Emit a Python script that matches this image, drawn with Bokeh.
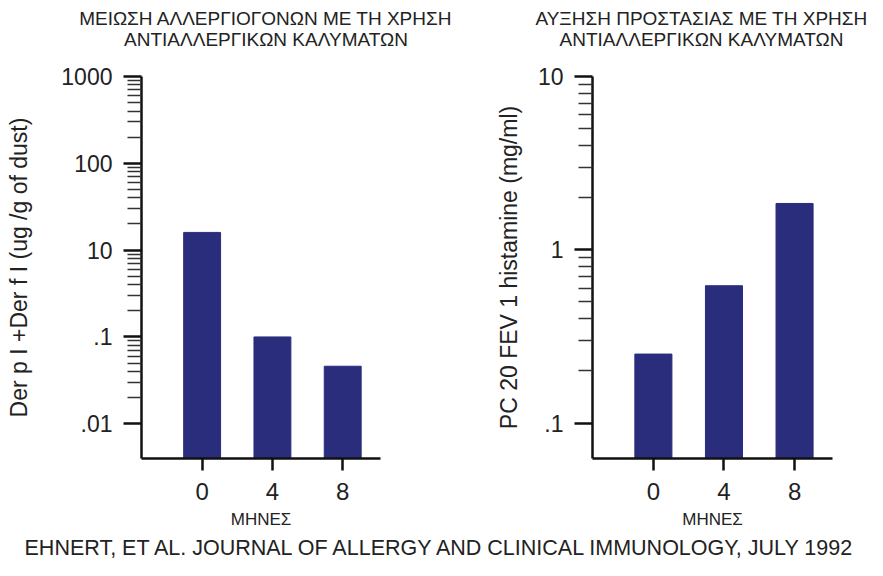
from bokeh.plotting import figure
from bokeh.layouts import column, row
from bokeh.models import Range1d, FixedTicker, Label
from bokeh.embed import file_html
from bokeh.resources import INLINE

# ---------------- data ----------------
months = [0, 4, 8]
allergen = [16.0, 1.0, 0.46]          # left panel (axis as printed: 1000,100,10,.1,.01)
pc20 = [0.25, 0.62, 1.85]             # right panel

left_ticks = [1000, 100, 10, 1, 0.1]
left_tick_labels = ["1000", "100", "10", ".1", ".01"]
right_ticks = [10, 1, 0.1]
right_tick_labels = ["10", "1", ".1"]
month_ticks = [0, 4, 8]

left_title = ["ΜΕΙΩΣΗ ΑΛΛΕΡΓΙΟΓΟΝΩΝ ΜΕ ΤΗ ΧΡΗΣΗ", "ΑΝΤΙΑΛΛΕΡΓΙΚΩΝ ΚΑΛΥΜΑΤΩΝ"]
right_title = ["ΑΥΞΗΣΗ ΠΡΟΣΤΑΣΙΑΣ ΜΕ ΤΗ ΧΡΗΣΗ", "ΑΝΤΙΑΛΛΕΡΓΙΚΩΝ ΚΑΛΥΜΑΤΩΝ"]
left_ylabel = "Der p I +Der f I (ug /g of dust)"
right_ylabel = "PC 20 FEV 1 histamine (mg/ml)"
xlabel = "ΜΗΝΕΣ"
footer = "EHNERT, ET AL. JOURNAL OF ALLERGY AND CLINICAL IMMUNOLOGY, JULY 1992"

FONT = "Liberation Sans"
TXT = "#222222"
BAR = "#2a2d7c"


def minor_ticks(decades):
    out = []
    for d in decades:
        for m in range(2, 10):
            out.append(m * d)
    return out


def make_panel(ylabel, values, yr, majors, labels, minors,
               width, border_left, border_right, ylabel_standoff):
    p = figure(width=width, height=481,
               x_range=Range1d(-3.45, 10.15), y_range=yr,
               y_axis_type="log", output_backend="svg",
               toolbar_location=None,
               min_border_left=border_left, min_border_right=border_right,
               min_border_top=26, min_border_bottom=73)

    p.vbar(x=months, top=values, bottom=1e-4, width=2.1,
           fill_color=BAR, line_color=BAR)

    p.grid.visible = False
    p.outline_line_color = None

    xa = p.xaxis[0]
    xa.ticker = FixedTicker(ticks=month_ticks)
    xa.axis_line_width = 2.5
    xa.axis_line_color = "#111111"
    xa.major_tick_in = 0
    xa.major_tick_out = 12
    xa.major_tick_line_width = 2.5
    xa.major_tick_line_color = "#111111"
    xa.minor_tick_line_color = None
    xa.major_label_text_font = FONT
    xa.major_label_text_font_size = "24px"
    xa.major_label_text_color = TXT
    xa.major_label_standoff = 12
    xa.axis_label = xlabel
    xa.axis_label_text_font = FONT
    xa.axis_label_text_font_size = "17px"
    xa.axis_label_text_font_style = "normal"
    xa.axis_label_text_color = TXT
    xa.axis_label_standoff = 7

    ya = p.yaxis[0]
    ya.ticker = FixedTicker(ticks=majors, minor_ticks=minors)
    ya.major_label_overrides = {t: l for t, l in zip(majors, labels)}
    ya.axis_line_width = 2.5
    ya.axis_line_color = "#111111"
    ya.major_tick_in = 0
    ya.major_tick_out = 18
    ya.major_tick_line_width = 2.5
    ya.major_tick_line_color = "#111111"
    ya.minor_tick_in = 0
    ya.minor_tick_out = 14
    ya.minor_tick_line_width = 1.5
    ya.minor_tick_line_color = "#333333"
    ya.major_label_text_font = FONT
    ya.major_label_text_font_size = "23px"
    ya.major_label_text_color = TXT
    ya.major_label_standoff = 11
    ya.axis_label = ylabel
    ya.axis_label_text_font = FONT
    ya.axis_label_text_font_size = "23px"
    ya.axis_label_text_font_style = "normal"
    ya.axis_label_text_color = TXT
    ya.axis_label_standoff = ylabel_standoff
    return p


def text_strip(width, height):
    f = figure(width=width, height=height, x_range=Range1d(0, width),
               y_range=Range1d(height, 0), output_backend="svg",
               toolbar_location=None, min_border=0)
    f.axis.visible = False
    f.grid.visible = False
    f.outline_line_color = None
    return f


# header with the two panel titles
head = text_strip(867, 50)
for cx, lines in [(265.5, left_title), (701, right_title)]:
    for line, cy in zip(lines, [17.5, 39]):
        head.add_layout(Label(x=cx, y=cy, text=line, text_align="center",
                              text_baseline="middle", text_font=FONT,
                              text_font_size="19px", text_color=TXT))

p1 = make_panel(left_ylabel, allergen,
                Range1d(0.0398, 1000), left_ticks, left_tick_labels,
                minor_ticks([0.1, 1, 10, 100]), 441, 141, 61, 26)
p2 = make_panel(right_ylabel, pc20,
                Range1d(0.0624, 10), right_ticks, right_tick_labels,
                minor_ticks([0.1, 1]), 426, 151, 35, 13)

foot = text_strip(867, 29)
foot.add_layout(Label(x=441, y=16.5, text=footer, text_align="center",
                      text_baseline="middle", text_font=FONT,
                      text_font_size="21.5px", text_color=TXT))

layout = column(head, row(p1, p2), foot)
open("out.html", "w").write(file_html(layout, INLINE))
